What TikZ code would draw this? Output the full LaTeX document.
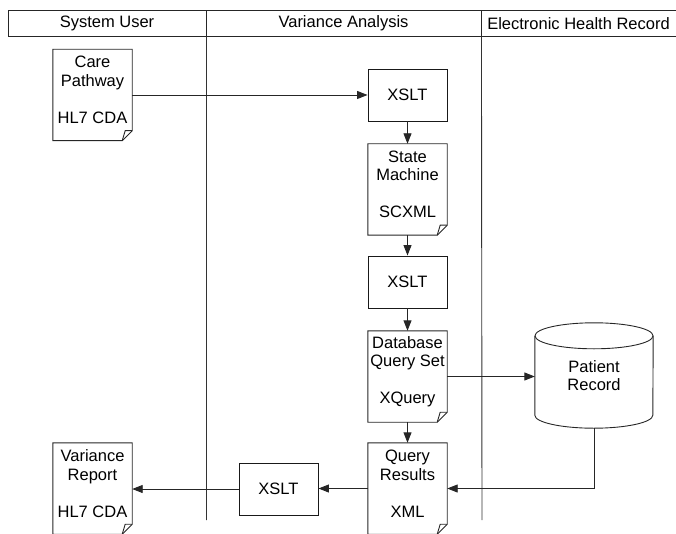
\documentclass[tikz,border=0pt]{standalone}
\usepackage{fontspec}
\setmainfont{Liberation Sans}
\usetikzlibrary{positioning,arrows.meta,calc}

\newcommand{\docshape}[1]{%
  \draw[docline] (#1.north west) -- (#1.north east) -- ([yshift=10pt]#1.south east)
    -- ([xshift=-10pt]#1.south east) -- (#1.south west) -- cycle;
  \draw[docline] ([xshift=-10pt]#1.south east) -- ([xshift=-7pt,yshift=10pt]#1.south east)
    -- ([yshift=10pt]#1.south east);}

\begin{document}
\begin{tikzpicture}[x=1pt, y=-1pt,
  txt/.style={font=\fontsize{16.5}{18.5}\selectfont},
  lanehead/.style={txt, draw, black!85, line width=0.9pt, text=black, minimum height=25.5pt, inner sep=0pt},
  lane/.style={black!80, line width=0.9pt},
  proc/.style={txt, draw, black!90, line width=0.9pt, text=black, minimum width=79pt, minimum height=52pt, inner sep=0pt},
  doc/.style={minimum width=79pt, minimum height=91pt, inner sep=0pt},
  doctext/.style={txt, align=center, inner sep=0pt},
  docline/.style={black!85, line width=0.9pt},
  store/.style={txt, align=center, minimum width=118pt, minimum height=79pt, inner sep=0pt},
  flow/.style={black!85, line width=0.9pt, -{Triangle[length=10.5pt,width=8pt]}}
]
  \useasboundingbox (0,0) rectangle (676,534);

  % lanes
  \node[lanehead, minimum width=198pt] (hUser) at (107,23.25)   {System User};
  \node[lanehead, minimum width=275pt] (hVar)  at (343.5,23.25) {Variance Analysis};
  \node[lanehead, minimum width=195pt] (hEHR)  at (578.5,23.25) {Electronic Health Record};
  \coordinate (l1) at (206.5,520);
  \coordinate (l2) at (482,520);
  \draw[lane] (hUser.south east) -- (l1);
  \draw[lane] (hVar.south east) -- (l2);

  % documents
  \node[doc] (care) at (92.5,95)     {};
  \node[doc] (sm)   at (407.5,189.5) {};
  \node[doc] (dbq)  at (407.5,376.5) {};
  \node[doc] (res)  at (407.5,488.5) {};
  \node[doc] (rep)  at (92.5,488.5)  {};
  \docshape{care} \docshape{sm} \docshape{dbq} \docshape{res} \docshape{rep}
  \node[doctext, yshift=5pt] (careT) at (care) {Care\\Pathway\\[18.5pt]HL7 CDA};
  \node[doctext, yshift=5pt] (smT)   at (sm)   {State\\Machine\\[18.5pt]SCXML};
  \node[doctext, yshift=5pt] (dbqT)  at (dbq)  {Database\\Query Set\\[18.5pt]XQuery};
  \node[doctext, yshift=5pt] (resT)  at (res)  {Query\\Results\\[18.5pt]XML};
  \node[doctext, yshift=5pt] (repT)  at (rep)  {Variance\\Report\\[18.5pt]HL7 CDA};

  % transforms
  \node[proc] (xslA) at (407.5,95)  {XSLT};
  \node[proc] (xslB) at (407.5,282) {XSLT};
  \node[proc] (xslC) at (278.5,489) {XSLT};

  % patient record store
  \node[store] (patient) at (594,375.5) {Patient\\Record};
  \draw[docline] (patient.north west) -- (patient.south west)
    arc[start angle=180, end angle=360, x radius=59pt, y radius=13pt]
    -- (patient.north east);
  \draw[docline] (patient.north) ellipse[x radius=59pt, y radius=13pt];
  \coordinate (pBot) at ([yshift=-13pt]patient.south);

  % flows
  \draw[flow] (care.east) -- (care.east -| xslA.west);
  \draw[flow] (xslA) -- (sm);
  \draw[flow] (sm) -- (xslB);
  \draw[flow] (xslB) -- (dbq);
  \draw[flow] (dbq) -- (res);
  \draw[flow] (dbq.east) -- (dbq.east -| patient.west);
  \draw[flow] (pBot) |- (res.east);
  \draw[flow] (res.west) -- (res.west -| xslC.east);
  \draw[flow] (xslC.west) -- (xslC.west -| rep.east);
\end{tikzpicture}
\end{document}
